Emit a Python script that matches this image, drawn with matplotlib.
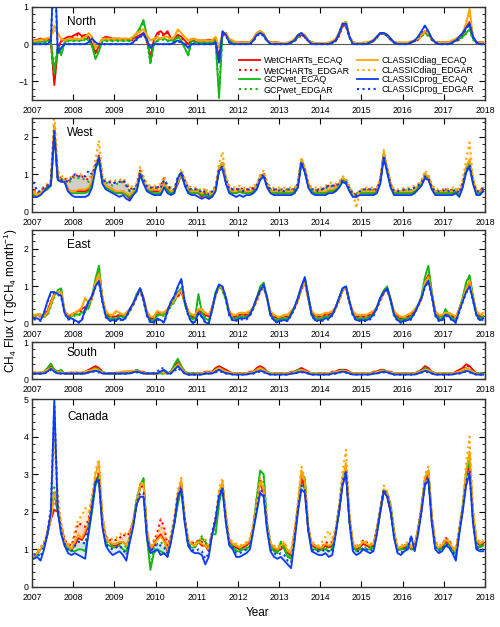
import numpy as np
import matplotlib
matplotlib.use('Agg')
import matplotlib.pyplot as plt
from matplotlib.ticker import MultipleLocator

plt.rcParams['font.family'] = ['Liberation Sans', 'DejaVu Sans']
plt.rcParams['mathtext.default'] = 'regular'

# monthly CH4 flux, Jan 2007 .. Dec 2017, in hundredths of TgCH4/month
# one row = one year

# ---- North ----
NORTH_WET_ECAQ = [
    10, 12, 15, 12, 15, 10, -110, -15, 10, 15, 20, 20,
    25, 30, 22, 25, 20, 0, -25, -5, 15, 20, 18, 15,
    15, 15, 12, 15, 10, 15, 20, 25, 30, 10, -35, 10,
    30, 35, 25, 35, 15, 15, 25, 20, 10, 0, 10, 10,
    10, 10, 10, 12, 10, 15, -40, 25, 30, 10, 5, 5,
    5, 5, 5, 5, 15, 30, 35, 25, 10, 5, 5, 5,
    3, 3, 3, 5, 10, 20, 25, 20, 10, 5, 3, 3,
    3, 3, 3, 5, 10, 25, 50, 50, 20, 5, 3, 3,
    3, 3, 5, 10, 20, 30, 30, 25, 15, 5, 3, 3,
    3, 3, 5, 10, 15, 25, 35, 30, 15, 5, 5, 5,
    5, 5, 10, 10, 15, 25, 45, 60, 20, 5, 5, 5,
]
NORTH_WET_EDGAR = [
    8, 10, 12, 10, 12, 8, -100, -10, 8, 12, 15, 15,
    20, 25, 20, 20, 15, 0, -20, -5, 12, 15, 15, 12,
    12, 12, 10, 12, 8, 12, 18, 22, 28, 5, -40, 8,
    25, 30, 22, 30, 12, 12, 22, 18, 8, 0, 8, 8,
    8, 8, 8, 10, 8, 12, -35, 22, 28, 8, 4, 4,
    4, 4, 4, 4, 12, 28, 32, 22, 8, 4, 4, 4,
    2, 2, 2, 4, 8, 18, 22, 18, 8, 4, 2, 2,
    2, 2, 2, 4, 8, 22, 48, 48, 18, 4, 2, 2,
    2, 2, 4, 8, 18, 28, 28, 22, 12, 4, 2, 2,
    2, 2, 4, 8, 12, 22, 32, 28, 12, 4, 4, 4,
    4, 4, 8, 8, 12, 22, 42, 55, 18, 4, 4, 4,
]
NORTH_GCP_ECAQ = [
    5, 5, 8, 5, 10, 5, -80, -10, -30, 5, 10, 10,
    10, 10, 10, 15, 10, -5, -40, -20, 10, 10, 10, 10,
    10, 10, 10, 10, 10, 20, 30, 45, 65, 20, -50, 0,
    10, 15, 15, 10, 10, 10, 20, 10, -10, -30, 10, 5,
    5, 5, 5, 5, 5, 10, -145, 30, 30, 10, 5, 5,
    3, 3, 3, 5, 10, 30, 35, 25, 10, 5, 3, 3,
    3, 3, 3, 5, 10, 20, 30, 25, 10, 5, 3, 3,
    3, 3, 3, 5, 10, 30, 55, 60, 20, 5, 3, 3,
    3, 3, 5, 10, 20, 30, 30, 25, 15, 5, 3, 3,
    3, 3, 5, 10, 15, 25, 30, 25, 15, 5, 3, 3,
    3, 3, 5, 10, 15, 20, 30, 40, 15, 5, 3, 3,
]
NORTH_GCP_EDGAR = [
    3, 3, 5, 3, 8, 3, -60, -8, -25, 3, 8, 8,
    8, 8, 8, 12, 8, -5, -35, -15, 8, 8, 8, 8,
    8, 8, 8, 8, 8, 18, 28, 40, 60, 15, -55, 0,
    8, 12, 12, 8, 8, 8, 18, 8, -10, -30, 8, 4,
    4, 4, 4, 4, 4, 8, -130, 28, 28, 8, 4, 4,
    2, 2, 2, 4, 8, 28, 32, 22, 8, 4, 2, 2,
    2, 2, 2, 4, 8, 18, 28, 22, 8, 4, 2, 2,
    2, 2, 2, 4, 8, 28, 52, 58, 18, 4, 2, 2,
    2, 2, 4, 8, 18, 28, 28, 22, 12, 4, 2, 2,
    2, 2, 4, 8, 12, 22, 28, 22, 12, 4, 2, 2,
    2, 2, 4, 8, 12, 18, 28, 38, 12, 4, 2, 2,
]
NORTH_DIAG_ECAQ = [
    10, 10, 12, 15, 15, 20, 50, 30, 15, 10, 15, 15,
    15, 15, 15, 20, 30, 20, -10, 0, 15, 15, 15, 15,
    15, 15, 15, 15, 15, 20, 30, 35, 40, 25, 10, 15,
    20, 15, 20, 20, 15, 20, 40, 30, 20, 10, 15, 15,
    10, 10, 10, 10, 10, 20, -10, 30, 30, 15, 10, 5,
    5, 5, 5, 5, 15, 30, 35, 30, 10, 5, 5, 5,
    3, 3, 5, 8, 15, 25, 30, 25, 10, 5, 3, 3,
    3, 3, 5, 8, 15, 30, 55, 60, 20, 5, 3, 3,
    5, 5, 8, 12, 20, 30, 30, 25, 15, 5, 5, 5,
    5, 5, 8, 10, 15, 25, 35, 30, 15, 5, 5, 5,
    5, 5, 10, 15, 20, 30, 55, 95, 20, 5, 5, 5,
]
NORTH_DIAG_EDGAR = [
    8, 8, 10, 12, 12, 18, 40, 25, 12, 8, 12, 12,
    12, 12, 12, 18, 25, 18, -8, 0, 12, 12, 12, 12,
    12, 12, 12, 12, 12, 18, 28, 32, 38, 22, 8, 12,
    18, 12, 18, 18, 12, 18, 38, 28, 18, 8, 12, 12,
    8, 8, 8, 8, 8, 18, -8, 28, 28, 12, 8, 4,
    4, 4, 4, 4, 12, 28, 32, 28, 8, 4, 4, 4,
    2, 2, 4, 6, 12, 22, 28, 22, 8, 4, 2, 2,
    2, 2, 4, 6, 12, 28, 52, 58, 18, 4, 2, 2,
    4, 4, 6, 10, 18, 28, 28, 22, 12, 4, 4, 4,
    4, 4, 6, 8, 12, 22, 32, 28, 12, 4, 4, 4,
    4, 4, 8, 12, 18, 28, 60, 90, 18, 4, 4, 4,
]
NORTH_PROG_ECAQ = [
    0, 0, 0, 0, 0, 10, 250, -25, -10, 0, 0, 0,
    0, 0, 0, 0, 5, 15, 5, 0, 0, 0, 0, 0,
    0, 0, 0, 0, 0, 5, 15, 20, 30, 10, -10, 0,
    0, 0, 0, 0, 0, 5, 10, 5, 0, -10, 0, 0,
    0, 0, 0, 0, 0, 5, -50, 35, 25, 5, 0, 0,
    0, 0, 0, 0, 10, 25, 30, 25, 10, 0, 0, 0,
    0, 0, 0, 5, 10, 25, 30, 20, 10, 0, 0, 0,
    0, 0, 0, 5, 10, 30, 55, 55, 20, 0, 0, 0,
    0, 0, 5, 10, 20, 30, 30, 25, 15, 5, 0, 0,
    0, 0, 5, 10, 20, 35, 50, 35, 15, 5, 0, 0,
    0, 0, 5, 10, 20, 30, 45, 55, 20, 5, 0, 0,
]
NORTH_PROG_EDGAR = [
    0, 0, 0, 0, 0, 8, 230, -20, -8, 0, 0, 0,
    0, 0, 0, 0, 4, 12, 4, 0, 0, 0, 0, 0,
    0, 0, 0, 0, 0, 4, 12, 18, 28, 8, -8, 0,
    0, 0, 0, 0, 0, 4, 8, 4, 0, -8, 0, 0,
    0, 0, 0, 0, 0, 4, -45, 32, 22, 4, 0, 0,
    0, 0, 0, 0, 8, 22, 28, 22, 8, 0, 0, 0,
    0, 0, 0, 4, 8, 22, 28, 18, 8, 0, 0, 0,
    0, 0, 0, 4, 8, 28, 52, 52, 18, 0, 0, 0,
    0, 0, 4, 8, 18, 28, 28, 22, 12, 4, 0, 0,
    0, 0, 4, 8, 18, 32, 48, 32, 12, 4, 0, 0,
    0, 0, 4, 8, 18, 28, 42, 52, 18, 4, 0, 0,
]

# ---- West ----
WEST_WET_ECAQ = [
    45, 45, 50, 60, 65, 75, 215, 90, 85, 85, 60, 55,
    55, 55, 55, 55, 60, 80, 120, 140, 80, 70, 65, 60,
    55, 50, 55, 45, 35, 50, 60, 100, 80, 60, 55, 55,
    55, 55, 75, 60, 50, 55, 75, 100, 80, 55, 50, 50,
    50, 40, 50, 35, 45, 60, 110, 125, 80, 55, 50, 50,
    55, 50, 50, 50, 55, 65, 90, 100, 70, 55, 55, 50,
    50, 50, 50, 50, 55, 70, 135, 110, 70, 55, 50, 50,
    50, 50, 55, 55, 60, 70, 85, 80, 60, 45, 40, 50,
    50, 50, 50, 50, 55, 80, 150, 110, 70, 50, 50, 50,
    50, 50, 50, 55, 65, 75, 95, 90, 65, 50, 50, 50,
    50, 50, 50, 55, 45, 70, 110, 125, 80, 50, 50, 60,
]
WEST_WET_EDGAR = [
    60, 50, 55, 65, 70, 80, 230, 95, 90, 90, 80, 90,
    100, 95, 95, 90, 85, 95, 125, 150, 90, 80, 80, 75,
    80, 80, 85, 75, 60, 65, 70, 110, 90, 70, 65, 65,
    65, 70, 90, 70, 60, 60, 80, 105, 85, 65, 60, 60,
    60, 50, 60, 45, 55, 65, 115, 130, 85, 65, 60, 60,
    65, 60, 60, 60, 65, 70, 95, 105, 75, 60, 60, 60,
    60, 60, 60, 60, 60, 75, 140, 115, 75, 60, 60, 60,
    60, 65, 70, 70, 70, 75, 90, 85, 65, 50, 45, 55,
    60, 60, 60, 60, 60, 85, 155, 115, 75, 55, 55, 55,
    60, 60, 60, 65, 70, 80, 100, 95, 70, 55, 55, 55,
    60, 55, 60, 60, 55, 75, 115, 135, 85, 55, 55, 65,
]
WEST_GCP_ECAQ = [
    45, 45, 50, 55, 60, 70, 210, 90, 85, 80, 55, 50,
    50, 50, 50, 50, 55, 75, 115, 135, 80, 65, 60, 55,
    50, 50, 50, 45, 40, 50, 60, 95, 80, 60, 55, 50,
    50, 50, 70, 55, 50, 55, 80, 95, 75, 55, 50, 50,
    50, 45, 45, 40, 45, 60, 115, 130, 80, 55, 50, 50,
    55, 50, 50, 50, 55, 65, 90, 95, 70, 55, 50, 50,
    50, 50, 50, 50, 55, 75, 140, 110, 70, 55, 50, 50,
    50, 50, 55, 55, 60, 70, 85, 80, 60, 45, 45, 50,
    50, 50, 50, 50, 55, 85, 155, 110, 70, 50, 50, 50,
    50, 50, 50, 55, 65, 75, 100, 90, 65, 50, 50, 50,
    50, 50, 50, 55, 45, 70, 115, 125, 80, 50, 50, 55,
]
WEST_GCP_EDGAR = [
    55, 50, 55, 60, 65, 75, 220, 92, 88, 85, 75, 85,
    95, 90, 90, 85, 80, 90, 120, 145, 88, 78, 75, 70,
    75, 75, 80, 70, 55, 60, 68, 105, 88, 68, 62, 62,
    62, 65, 85, 68, 58, 58, 82, 100, 80, 62, 58, 58,
    58, 50, 55, 45, 52, 65, 118, 132, 85, 62, 58, 58,
    62, 58, 58, 58, 62, 70, 95, 100, 75, 60, 58, 58,
    58, 58, 58, 58, 60, 78, 142, 112, 75, 60, 58, 58,
    58, 62, 68, 68, 68, 75, 90, 85, 65, 50, 48, 55,
    58, 58, 58, 58, 60, 88, 158, 112, 72, 55, 55, 55,
    58, 58, 58, 62, 68, 80, 102, 95, 70, 55, 55, 55,
    58, 55, 58, 60, 52, 75, 118, 130, 85, 55, 55, 60,
]
WEST_DIAG_ECAQ = [
    50, 45, 50, 60, 65, 80, 230, 95, 85, 85, 60, 55,
    55, 60, 60, 60, 65, 85, 125, 145, 85, 70, 65, 60,
    55, 55, 55, 50, 45, 55, 65, 105, 85, 65, 60, 60,
    60, 55, 75, 65, 55, 60, 80, 100, 80, 60, 55, 55,
    55, 50, 55, 45, 50, 65, 120, 130, 85, 60, 55, 55,
    60, 55, 55, 55, 60, 70, 95, 100, 70, 55, 55, 55,
    55, 55, 55, 55, 60, 75, 140, 115, 75, 60, 55, 55,
    55, 55, 60, 60, 65, 75, 90, 85, 60, 45, 40, 55,
    55, 55, 55, 55, 60, 85, 160, 115, 75, 55, 55, 55,
    55, 55, 55, 60, 70, 80, 100, 95, 70, 55, 55, 55,
    55, 55, 55, 60, 50, 75, 120, 140, 85, 55, 55, 65,
]
WEST_DIAG_EDGAR = [
    55, 50, 55, 70, 75, 85, 270, 110, 95, 95, 85, 95,
    100, 100, 100, 95, 90, 100, 140, 190, 100, 85, 85, 80,
    85, 85, 90, 80, 65, 70, 75, 120, 95, 75, 70, 70,
    70, 75, 95, 75, 65, 65, 90, 115, 90, 70, 65, 65,
    65, 55, 65, 50, 60, 70, 130, 160, 95, 70, 65, 65,
    70, 65, 65, 65, 70, 75, 100, 110, 80, 65, 65, 65,
    65, 65, 65, 65, 65, 80, 145, 120, 80, 65, 65, 65,
    65, 70, 75, 80, 75, 80, 95, 90, 70, 50, 10, 55,
    65, 65, 65, 65, 65, 90, 165, 120, 80, 60, 60, 60,
    65, 65, 65, 70, 75, 85, 110, 100, 75, 60, 60, 60,
    65, 60, 65, 65, 60, 85, 140, 185, 95, 60, 55, 70,
]
WEST_PROG_ECAQ = [
    40, 40, 45, 55, 65, 70, 210, 85, 80, 80, 55, 45,
    40, 40, 40, 40, 45, 65, 115, 145, 75, 60, 55, 50,
    45, 40, 45, 35, 30, 45, 55, 100, 75, 55, 50, 45,
    45, 45, 65, 50, 45, 50, 90, 105, 70, 50, 45, 45,
    40, 35, 40, 35, 40, 55, 110, 115, 75, 50, 45, 40,
    45, 40, 45, 45, 50, 60, 85, 95, 65, 50, 45, 45,
    45, 45, 45, 45, 50, 65, 130, 105, 65, 50, 45, 45,
    45, 45, 50, 50, 55, 65, 80, 75, 55, 40, 40, 45,
    45, 45, 45, 45, 50, 75, 145, 105, 65, 45, 45, 45,
    45, 45, 45, 50, 60, 70, 90, 85, 60, 45, 45, 45,
    45, 45, 45, 50, 40, 65, 105, 120, 75, 45, 45, 55,
]
WEST_PROG_EDGAR = [
    80, 55, 55, 65, 70, 80, 220, 90, 85, 85, 80, 90,
    100, 95, 95, 95, 110, 100, 125, 145, 85, 80, 80, 75,
    80, 80, 85, 70, 55, 60, 65, 105, 85, 65, 65, 65,
    65, 65, 85, 70, 60, 60, 95, 105, 80, 60, 60, 60,
    60, 50, 55, 45, 55, 65, 115, 120, 85, 60, 60, 60,
    60, 55, 60, 60, 60, 70, 90, 100, 70, 60, 60, 55,
    60, 55, 60, 60, 60, 75, 135, 110, 70, 60, 60, 55,
    60, 65, 70, 70, 70, 75, 85, 80, 60, 50, 45, 55,
    60, 60, 60, 60, 60, 85, 150, 110, 70, 55, 55, 55,
    60, 60, 60, 65, 70, 80, 95, 90, 65, 55, 55, 55,
    60, 55, 55, 60, 50, 75, 110, 125, 80, 55, 55, 65,
]

# ---- East ----
EAST_WET_ECAQ = [
    15, 25, 25, 20, 35, 60, 80, 85, 85, 30, 20, 25,
    30, 35, 40, 45, 50, 70, 110, 140, 70, 30, 20, 20,
    20, 25, 20, 30, 40, 55, 75, 95, 70, 30, 15, 15,
    30, 30, 30, 40, 55, 65, 75, 85, 60, 35, 20, 20,
    35, 30, 25, 20, 45, 80, 100, 95, 70, 30, 20, 20,
    25, 25, 25, 30, 45, 65, 90, 100, 70, 30, 20, 15,
    15, 20, 20, 30, 45, 65, 95, 110, 70, 30, 20, 20,
    20, 25, 25, 30, 45, 65, 90, 95, 60, 30, 20, 20,
    20, 20, 25, 30, 45, 65, 85, 95, 65, 30, 20, 15,
    15, 20, 25, 35, 50, 70, 110, 130, 80, 35, 20, 20,
    25, 30, 20, 15, 40, 65, 95, 110, 70, 30, 20, 20,
]
EAST_WET_EDGAR = [
    15, 20, 20, 20, 30, 55, 78, 85, 85, 28, 18, 22,
    25, 30, 35, 40, 45, 68, 105, 135, 68, 28, 18, 18,
    18, 22, 18, 28, 38, 52, 72, 92, 68, 28, 12, 12,
    25, 25, 25, 38, 52, 62, 72, 85, 58, 32, 18, 18,
    32, 28, 22, 18, 42, 78, 98, 95, 68, 28, 18, 18,
    22, 22, 22, 28, 42, 62, 88, 98, 68, 28, 18, 12,
    12, 18, 18, 28, 42, 62, 92, 108, 68, 28, 18, 18,
    18, 22, 22, 28, 42, 62, 88, 95, 58, 28, 18, 18,
    18, 18, 22, 28, 42, 62, 82, 92, 62, 28, 18, 12,
    12, 18, 22, 32, 48, 68, 108, 128, 78, 32, 18, 18,
    22, 28, 18, 12, 38, 62, 92, 108, 68, 28, 18, 18,
]
EAST_GCP_ECAQ = [
    20, 25, 25, 20, 25, 50, 75, 90, 95, 35, 15, 20,
    25, 25, 30, 35, 45, 75, 120, 155, 70, 25, 15, 15,
    15, 20, 20, 25, 35, 55, 80, 95, 65, 25, 10, 10,
    25, 25, 25, 35, 50, 60, 85, 95, 55, 30, 15, 15,
    80, 30, 15, 10, 40, 85, 105, 90, 65, 25, 15, 15,
    20, 20, 20, 25, 45, 70, 100, 110, 70, 25, 15, 10,
    15, 15, 15, 25, 45, 70, 100, 120, 70, 25, 15, 15,
    15, 20, 20, 25, 45, 70, 95, 100, 60, 25, 15, 15,
    15, 15, 20, 25, 45, 70, 90, 100, 65, 25, 15, 10,
    15, 15, 20, 30, 50, 75, 125, 155, 85, 30, 15, 15,
    40, 25, 15, 10, 40, 70, 110, 130, 75, 25, 15, 20,
]
EAST_GCP_EDGAR = [
    18, 22, 22, 18, 22, 48, 72, 88, 92, 32, 12, 18,
    22, 22, 28, 32, 42, 72, 115, 150, 68, 22, 12, 12,
    12, 18, 18, 22, 32, 52, 78, 92, 62, 22, 8, 8,
    22, 22, 22, 32, 48, 58, 82, 92, 52, 28, 12, 12,
    75, 28, 12, 8, 38, 82, 102, 88, 62, 22, 12, 12,
    18, 18, 18, 22, 42, 68, 98, 108, 68, 22, 12, 8,
    12, 12, 12, 22, 42, 68, 98, 118, 68, 22, 12, 12,
    12, 18, 18, 22, 42, 68, 92, 98, 58, 22, 12, 12,
    12, 12, 18, 22, 42, 68, 88, 98, 62, 22, 12, 8,
    12, 12, 18, 28, 48, 72, 122, 150, 82, 28, 12, 12,
    38, 22, 12, 8, 38, 68, 108, 128, 72, 22, 12, 18,
]
EAST_DIAG_ECAQ = [
    25, 25, 25, 20, 30, 55, 80, 85, 85, 35, 25, 25,
    30, 35, 45, 70, 55, 70, 110, 135, 70, 35, 25, 25,
    35, 30, 25, 30, 40, 55, 75, 90, 65, 35, 20, 20,
    35, 30, 30, 40, 55, 65, 80, 90, 60, 35, 25, 25,
    40, 40, 30, 25, 45, 75, 100, 95, 70, 35, 25, 25,
    30, 30, 30, 35, 45, 65, 90, 100, 70, 35, 25, 20,
    20, 25, 25, 35, 45, 65, 95, 110, 70, 35, 25, 25,
    25, 30, 30, 35, 45, 65, 90, 95, 60, 35, 25, 25,
    25, 25, 30, 35, 45, 65, 85, 95, 65, 35, 25, 20,
    20, 25, 30, 40, 50, 70, 110, 125, 80, 35, 25, 25,
    30, 30, 25, 20, 40, 65, 95, 115, 70, 35, 25, 30,
]
EAST_DIAG_EDGAR = [
    22, 22, 22, 18, 28, 52, 78, 85, 85, 32, 22, 22,
    28, 32, 42, 65, 52, 68, 108, 132, 68, 32, 22, 22,
    32, 28, 22, 28, 38, 52, 72, 88, 62, 32, 18, 18,
    32, 28, 28, 38, 52, 62, 78, 88, 58, 32, 22, 22,
    38, 38, 28, 22, 42, 72, 98, 92, 68, 32, 22, 22,
    28, 28, 28, 32, 42, 62, 88, 98, 68, 32, 22, 18,
    18, 22, 22, 32, 42, 62, 92, 108, 68, 32, 22, 22,
    22, 28, 28, 32, 42, 62, 88, 92, 58, 32, 22, 22,
    22, 22, 28, 32, 42, 62, 82, 92, 62, 32, 22, 18,
    18, 22, 28, 38, 48, 68, 108, 122, 78, 32, 22, 22,
    28, 28, 22, 18, 38, 62, 92, 112, 68, 32, 22, 28,
]
EAST_PROG_ECAQ = [
    15, 15, 10, 30, 60, 85, 85, 80, 75, 30, 15, 15,
    10, 5, 10, 40, 60, 75, 100, 115, 60, 20, 10, 10,
    10, 15, 10, 20, 40, 55, 75, 95, 65, 25, 5, 5,
    15, 10, 5, 35, 60, 75, 100, 120, 60, 25, 5, 5,
    30, 20, 5, 0, 40, 80, 105, 100, 70, 25, 10, 10,
    15, 15, 15, 25, 45, 70, 90, 105, 70, 25, 10, 5,
    10, 10, 10, 25, 45, 70, 100, 125, 75, 25, 10, 10,
    10, 15, 15, 25, 45, 70, 95, 100, 60, 25, 10, 10,
    10, 10, 15, 25, 45, 70, 85, 95, 65, 25, 10, 5,
    10, 10, 15, 30, 50, 70, 100, 115, 75, 25, 10, 10,
    25, 20, 10, 5, 35, 60, 85, 100, 65, 25, 10, 15,
]
EAST_PROG_EDGAR = [
    12, 12, 8, 28, 58, 82, 82, 78, 72, 28, 12, 12,
    8, 3, 8, 38, 58, 72, 98, 112, 58, 18, 8, 8,
    8, 12, 8, 18, 38, 52, 72, 92, 62, 22, 3, 3,
    12, 8, 3, 32, 58, 72, 98, 118, 58, 22, 3, 3,
    28, 18, 3, 0, 38, 78, 102, 98, 68, 22, 8, 8,
    12, 12, 12, 22, 42, 68, 88, 102, 68, 22, 8, 3,
    8, 8, 8, 22, 42, 68, 98, 122, 72, 22, 8, 8,
    8, 12, 12, 22, 42, 68, 92, 98, 58, 22, 8, 8,
    8, 8, 12, 22, 42, 68, 82, 92, 62, 22, 8, 3,
    8, 8, 12, 28, 48, 68, 98, 112, 72, 22, 8, 8,
    22, 18, 8, 3, 32, 58, 82, 98, 62, 22, 8, 12,
]

# ---- South ----
SOUTH_WET_ECAQ = [
    15, 15, 15, 20, 25, 35, 25, 20, 20, 15, 15, 15,
    15, 15, 15, 20, 25, 30, 35, 30, 20, 15, 15, 15,
    15, 15, 20, 20, 20, 20, 25, 20, 20, 15, 15, 15,
    15, 20, 20, 15, 20, 35, 50, 35, 20, 15, 15, 15,
    15, 15, 20, 20, 20, 30, 35, 30, 25, 20, 15, 15,
    15, 15, 15, 20, 20, 30, 35, 30, 20, 15, 15, 15,
    15, 15, 15, 20, 20, 25, 30, 25, 20, 15, 15, 15,
    15, 15, 15, 20, 20, 25, 25, 25, 20, 15, 15, 15,
    15, 15, 15, 20, 20, 25, 25, 20, 20, 15, 15, 15,
    15, 15, 15, 15, 20, 25, 35, 30, 20, 15, 15, 15,
    15, 15, 15, 20, 25, 30, 40, 35, 25, 15, 15, 15,
]
SOUTH_WET_EDGAR = [
    15, 15, 15, 18, 22, 32, 25, 20, 18, 15, 15, 15,
    15, 15, 15, 18, 22, 28, 32, 28, 20, 15, 15, 15,
    15, 15, 18, 18, 20, 20, 22, 20, 18, 15, 15, 15,
    15, 18, 18, 15, 20, 32, 45, 32, 20, 15, 15, 15,
    15, 15, 18, 18, 20, 28, 32, 28, 22, 18, 15, 15,
    15, 15, 15, 18, 20, 28, 32, 28, 20, 15, 15, 15,
    15, 15, 15, 18, 20, 22, 28, 22, 18, 15, 15, 15,
    15, 15, 15, 18, 20, 22, 25, 22, 18, 15, 15, 15,
    15, 15, 15, 18, 20, 22, 22, 20, 18, 15, 15, 15,
    15, 15, 15, 15, 18, 22, 32, 28, 20, 15, 15, 15,
    15, 15, 15, 18, 22, 28, 38, 32, 22, 15, 15, 15,
]
SOUTH_GCP_ECAQ = [
    15, 15, 15, 20, 30, 42, 25, 20, 25, 15, 15, 15,
    15, 15, 15, 15, 20, 25, 30, 25, 20, 15, 15, 15,
    15, 15, 15, 15, 20, 20, 25, 20, 15, 15, 15, 15,
    15, 15, 15, 15, 20, 40, 55, 35, 20, 15, 15, 15,
    15, 15, 15, 15, 20, 25, 30, 25, 20, 15, 15, 15,
    15, 15, 15, 15, 20, 25, 30, 25, 20, 15, 15, 15,
    15, 15, 15, 15, 20, 25, 25, 20, 15, 15, 15, 15,
    15, 15, 15, 15, 20, 20, 25, 20, 15, 15, 15, 15,
    15, 15, 15, 15, 20, 20, 25, 20, 15, 15, 15, 15,
    15, 15, 15, 15, 20, 20, 30, 25, 20, 15, 15, 15,
    15, 15, 15, 15, 20, 25, 30, 25, 20, 15, 15, 15,
]
SOUTH_GCP_EDGAR = [
    15, 15, 15, 18, 28, 38, 25, 20, 22, 15, 15, 15,
    15, 15, 15, 15, 18, 22, 28, 22, 18, 15, 15, 15,
    15, 15, 15, 15, 18, 18, 22, 18, 15, 15, 15, 15,
    15, 15, 15, 15, 18, 35, 50, 32, 18, 15, 15, 15,
    15, 15, 15, 15, 18, 22, 28, 22, 18, 15, 15, 15,
    15, 15, 15, 15, 18, 22, 28, 22, 18, 15, 15, 15,
    15, 15, 15, 15, 18, 22, 22, 18, 15, 15, 15, 15,
    15, 15, 15, 15, 18, 18, 22, 18, 15, 15, 15, 15,
    15, 15, 15, 15, 18, 18, 22, 18, 15, 15, 15, 15,
    15, 15, 15, 15, 18, 18, 28, 22, 18, 15, 15, 15,
    15, 15, 15, 15, 18, 22, 28, 22, 18, 15, 15, 15,
]
SOUTH_DIAG_ECAQ = [
    18, 18, 18, 20, 25, 30, 22, 18, 20, 15, 18, 18,
    18, 18, 18, 20, 22, 25, 28, 22, 18, 15, 15, 15,
    18, 18, 20, 20, 20, 22, 22, 20, 18, 15, 15, 15,
    15, 18, 18, 15, 18, 30, 40, 30, 18, 12, 12, 12,
    15, 15, 18, 18, 18, 25, 30, 25, 20, 18, 15, 15,
    15, 15, 15, 18, 18, 25, 30, 25, 18, 15, 15, 15,
    15, 15, 15, 18, 18, 22, 25, 22, 18, 15, 15, 15,
    15, 15, 15, 18, 18, 22, 22, 22, 18, 15, 15, 15,
    15, 15, 15, 18, 18, 22, 22, 20, 18, 15, 15, 15,
    15, 15, 15, 15, 18, 22, 25, 25, 18, 15, 15, 15,
    15, 15, 15, 18, 20, 25, 28, 25, 20, 15, 12, 12,
]
SOUTH_DIAG_EDGAR = [
    18, 18, 18, 20, 22, 28, 22, 18, 18, 15, 18, 18,
    18, 18, 18, 20, 22, 22, 25, 22, 18, 15, 15, 15,
    18, 18, 18, 20, 20, 22, 22, 20, 18, 15, 15, 15,
    15, 18, 18, 15, 18, 28, 35, 28, 18, 12, 12, 12,
    15, 15, 18, 18, 18, 22, 28, 22, 20, 18, 15, 15,
    15, 15, 15, 18, 18, 22, 28, 22, 18, 15, 15, 15,
    15, 15, 15, 18, 18, 20, 22, 20, 18, 15, 15, 15,
    15, 15, 15, 18, 18, 20, 22, 20, 18, 15, 15, 15,
    15, 15, 15, 18, 18, 20, 22, 20, 18, 15, 15, 15,
    15, 15, 15, 15, 18, 20, 22, 22, 18, 15, 15, 15,
    15, 15, 15, 18, 18, 22, 25, 22, 18, 15, 12, 12,
]
SOUTH_PROG_ECAQ = [
    15, 15, 15, 15, 20, 28, 20, 15, 15, 15, 15, 15,
    15, 15, 15, 15, 18, 20, 22, 20, 15, 15, 15, 15,
    15, 15, 15, 15, 15, 18, 20, 18, 15, 15, 15, 15,
    15, 20, 25, 15, 15, 25, 35, 25, 15, 12, 12, 12,
    12, 12, 15, 15, 15, 20, 25, 20, 15, 15, 12, 12,
    12, 12, 12, 15, 15, 20, 22, 20, 15, 12, 12, 12,
    12, 12, 12, 15, 15, 18, 20, 18, 15, 12, 12, 12,
    12, 12, 12, 15, 15, 18, 20, 18, 15, 12, 12, 12,
    12, 12, 12, 15, 15, 18, 20, 18, 15, 12, 12, 12,
    12, 12, 12, 12, 15, 18, 22, 20, 15, 12, 12, 12,
    12, 12, 12, 15, 15, 18, 22, 20, 15, 12, 12, 12,
]
SOUTH_PROG_EDGAR = [
    15, 15, 15, 15, 20, 25, 20, 15, 15, 15, 15, 15,
    15, 15, 15, 15, 18, 20, 20, 18, 15, 15, 15, 15,
    15, 15, 15, 15, 15, 18, 18, 18, 15, 15, 15, 15,
    20, 30, 28, 15, 15, 22, 30, 22, 15, 12, 12, 12,
    12, 12, 15, 15, 15, 18, 22, 18, 15, 15, 12, 12,
    12, 12, 12, 15, 15, 18, 20, 18, 15, 12, 12, 12,
    12, 12, 12, 15, 15, 18, 18, 18, 15, 12, 12, 12,
    12, 12, 12, 15, 15, 18, 18, 18, 15, 12, 12, 12,
    12, 12, 12, 15, 15, 18, 18, 18, 15, 12, 12, 12,
    12, 12, 12, 12, 15, 18, 20, 18, 15, 12, 12, 12,
    12, 12, 12, 15, 15, 18, 20, 18, 15, 12, 12, 12,
]

# ---- Canada ----
CANADA_WET_ECAQ = [
    80, 90, 100, 110, 140, 180, 205, 200, 160, 120, 110, 100,
    110, 130, 125, 140, 170, 230, 280, 300, 180, 130, 120, 110,
    110, 115, 120, 110, 130, 170, 220, 265, 270, 150, 95, 110,
    130, 140, 125, 95, 130, 170, 230, 270, 180, 120, 115, 110,
    120, 110, 110, 95, 140, 170, 230, 270, 180, 120, 110, 105,
    100, 105, 110, 120, 160, 220, 280, 250, 160, 110, 100, 95,
    100, 110, 90, 85, 140, 210, 290, 260, 150, 110, 105, 100,
    100, 110, 105, 110, 150, 200, 280, 310, 180, 110, 100, 105,
    115, 110, 105, 110, 150, 200, 255, 240, 200, 140, 100, 100,
    105, 110, 100, 105, 150, 210, 280, 300, 180, 110, 100, 105,
    120, 115, 100, 90, 150, 210, 290, 330, 190, 120, 110, 115,
]
CANADA_WET_EDGAR = [
    85, 95, 105, 115, 145, 185, 235, 210, 165, 125, 115, 110,
    140, 170, 165, 160, 180, 235, 285, 305, 185, 135, 125, 125,
    125, 130, 140, 135, 145, 175, 225, 268, 272, 150, 100, 120,
    145, 180, 160, 110, 135, 175, 235, 275, 185, 125, 120, 115,
    125, 120, 120, 105, 140, 175, 240, 275, 185, 125, 115, 110,
    105, 110, 115, 125, 160, 225, 285, 255, 165, 115, 105, 100,
    105, 115, 95, 90, 145, 215, 295, 265, 155, 115, 110, 105,
    105, 120, 115, 120, 155, 205, 285, 315, 185, 115, 105, 110,
    125, 120, 110, 115, 155, 205, 260, 245, 205, 145, 105, 105,
    110, 115, 105, 110, 155, 215, 285, 305, 185, 115, 105, 110,
    130, 125, 105, 95, 155, 215, 295, 340, 195, 125, 115, 120,
]
CANADA_GCP_ECAQ = [
    80, 85, 100, 110, 140, 190, 250, 200, 150, 110, 100, 95,
    95, 100, 100, 95, 140, 200, 270, 290, 170, 115, 110, 105,
    105, 110, 100, 95, 130, 170, 230, 270, 290, 130, 45, 90,
    100, 95, 90, 80, 125, 170, 220, 260, 180, 110, 105, 105,
    120, 130, 120, 100, 140, 140, 220, 270, 190, 115, 105, 95,
    95, 100, 100, 110, 160, 240, 310, 300, 170, 110, 95, 90,
    120, 100, 80, 75, 140, 210, 300, 290, 150, 100, 100, 95,
    100, 100, 95, 100, 150, 210, 280, 300, 180, 110, 95, 100,
    100, 100, 100, 105, 150, 200, 250, 250, 220, 150, 100, 100,
    100, 110, 100, 100, 150, 210, 290, 310, 180, 110, 100, 100,
    110, 110, 100, 85, 150, 210, 300, 340, 180, 110, 105, 110,
]
CANADA_GCP_EDGAR = [
    85, 90, 105, 115, 145, 195, 265, 205, 155, 115, 105, 100,
    110, 120, 120, 115, 150, 210, 275, 295, 175, 120, 115, 110,
    115, 120, 115, 105, 135, 175, 235, 272, 285, 135, 55, 100,
    115, 120, 110, 90, 130, 175, 225, 265, 180, 115, 110, 110,
    125, 135, 125, 105, 145, 150, 225, 275, 190, 120, 110, 100,
    100, 105, 105, 115, 165, 240, 305, 295, 170, 115, 100, 95,
    120, 105, 85, 80, 145, 215, 300, 290, 155, 105, 105, 100,
    105, 105, 100, 105, 155, 215, 285, 305, 185, 115, 100, 105,
    105, 105, 105, 110, 155, 205, 255, 250, 220, 150, 105, 105,
    105, 115, 105, 105, 155, 215, 290, 310, 185, 115, 105, 105,
    120, 115, 105, 90, 155, 215, 305, 350, 185, 115, 110, 115,
]
CANADA_DIAG_ECAQ = [
    80, 90, 100, 110, 140, 180, 250, 220, 160, 120, 110, 100,
    120, 140, 130, 150, 170, 230, 300, 330, 190, 130, 120, 115,
    115, 120, 120, 110, 130, 170, 220, 270, 275, 150, 100, 115,
    125, 135, 120, 100, 130, 180, 250, 285, 180, 120, 115, 110,
    120, 115, 110, 100, 140, 180, 250, 280, 190, 125, 115, 110,
    105, 110, 115, 125, 160, 220, 280, 260, 160, 115, 105, 100,
    110, 115, 95, 90, 150, 220, 310, 280, 160, 115, 110, 105,
    105, 115, 110, 115, 150, 210, 290, 330, 190, 115, 105, 110,
    120, 115, 110, 115, 150, 200, 260, 250, 210, 145, 105, 105,
    110, 115, 105, 110, 150, 210, 290, 310, 190, 115, 105, 110,
    125, 120, 105, 95, 150, 210, 310, 360, 200, 125, 115, 120,
]
CANADA_DIAG_EDGAR = [
    85, 95, 105, 120, 150, 190, 400, 250, 170, 125, 115, 110,
    150, 180, 190, 210, 200, 240, 310, 340, 200, 135, 125, 130,
    130, 140, 145, 140, 150, 180, 230, 275, 280, 150, 105, 125,
    140, 160, 150, 110, 140, 190, 260, 290, 185, 125, 120, 115,
    125, 130, 125, 105, 145, 190, 260, 290, 195, 130, 120, 115,
    110, 115, 120, 130, 165, 230, 290, 270, 165, 120, 110, 105,
    115, 120, 100, 95, 150, 230, 320, 290, 165, 120, 115, 110,
    120, 135, 150, 130, 155, 220, 310, 365, 200, 120, 110, 115,
    125, 120, 115, 120, 155, 210, 270, 255, 215, 150, 110, 110,
    115, 120, 110, 115, 155, 215, 300, 320, 195, 125, 110, 115,
    130, 125, 110, 100, 155, 220, 330, 400, 210, 130, 120, 125,
]
CANADA_PROG_ECAQ = [
    75, 80, 70, 100, 140, 200, 500, 200, 140, 110, 90, 85,
    90, 85, 80, 75, 150, 210, 280, 280, 160, 110, 95, 85,
    90, 95, 85, 70, 120, 160, 220, 240, 240, 130, 90, 95,
    100, 85, 90, 80, 120, 170, 240, 260, 170, 110, 95, 90,
    90, 85, 60, 80, 140, 180, 240, 260, 170, 110, 100, 80,
    80, 85, 90, 100, 150, 200, 250, 240, 150, 95, 80, 75,
    80, 70, 60, 50, 120, 200, 260, 250, 150, 95, 90, 85,
    85, 90, 80, 85, 140, 200, 270, 300, 170, 95, 85, 90,
    100, 95, 90, 95, 140, 200, 255, 240, 200, 130, 90, 85,
    95, 100, 135, 95, 140, 200, 270, 285, 170, 100, 90, 95,
    110, 105, 90, 70, 140, 200, 270, 300, 170, 100, 95, 95,
]
CANADA_PROG_EDGAR = [
    85, 90, 80, 110, 145, 210, 480, 210, 150, 115, 100, 95,
    110, 120, 120, 115, 160, 220, 280, 290, 165, 115, 105, 100,
    105, 110, 100, 85, 125, 165, 225, 250, 250, 135, 95, 105,
    115, 110, 105, 90, 125, 175, 245, 265, 175, 115, 100, 95,
    100, 95, 75, 90, 145, 185, 245, 265, 175, 115, 105, 90,
    90, 95, 100, 105, 155, 210, 260, 250, 160, 100, 90, 85,
    90, 85, 70, 65, 130, 210, 270, 260, 155, 100, 95, 95,
    95, 100, 95, 95, 145, 210, 280, 310, 175, 100, 95, 95,
    105, 100, 95, 100, 145, 205, 260, 245, 205, 135, 95, 90,
    100, 105, 135, 100, 145, 205, 275, 290, 175, 105, 95, 100,
    115, 110, 95, 80, 145, 205, 280, 310, 175, 105, 100, 100,
]

LABELS = ['WetCHARTs_ECAQ', 'WetCHARTs_EDGAR', 'GCPwet_ECAQ', 'GCPwet_EDGAR',
          'CLASSICdiag_ECAQ', 'CLASSICdiag_EDGAR', 'CLASSICprog_ECAQ', 'CLASSICprog_EDGAR']
LINE_COLORS = ['#FF0000', '#FF0000', '#10B810', '#10B810',
               '#FFA500', '#FFA500', '#0A3CF5', '#0A3CF5']
BAND_COLORS = ['#FF9AB0', '#8EE68E', '#FFC878', '#9FB6F7']

PANELS = [
    # name, [left, bottom, width, height], ylim, y major step, title top (axes frac)
    ('North', [0.064, 0.8405, 0.906, 0.1485], (-1.5, 1.0), 1, 0.9,
     [NORTH_WET_ECAQ, NORTH_WET_EDGAR, NORTH_GCP_ECAQ, NORTH_GCP_EDGAR,
      NORTH_DIAG_ECAQ, NORTH_DIAG_EDGAR, NORTH_PROG_ECAQ, NORTH_PROG_EDGAR]),
    ('West', [0.064, 0.6619, 0.906, 0.1499], (0, 2.5), 1, 0.9,
     [WEST_WET_ECAQ, WEST_WET_EDGAR, WEST_GCP_ECAQ, WEST_GCP_EDGAR,
      WEST_DIAG_ECAQ, WEST_DIAG_EDGAR, WEST_PROG_ECAQ, WEST_PROG_EDGAR]),
    ('East', [0.064, 0.4833, 0.906, 0.1499], (0, 2.5), 1, 0.9,
     [EAST_WET_ECAQ, EAST_WET_EDGAR, EAST_GCP_ECAQ, EAST_GCP_EDGAR,
      EAST_DIAG_ECAQ, EAST_DIAG_EDGAR, EAST_PROG_ECAQ, EAST_PROG_EDGAR]),
    ('South', [0.064, 0.3955, 0.906, 0.0590], (0, 1.0), 1, 0.87,
     [SOUTH_WET_ECAQ, SOUTH_WET_EDGAR, SOUTH_GCP_ECAQ, SOUTH_GCP_EDGAR,
      SOUTH_DIAG_ECAQ, SOUTH_DIAG_EDGAR, SOUTH_PROG_ECAQ, SOUTH_PROG_EDGAR]),
    ('Canada', [0.064, 0.0638, 0.906, 0.2998], (0, 5.0), 1, 0.935,
     [CANADA_WET_ECAQ, CANADA_WET_EDGAR, CANADA_GCP_ECAQ, CANADA_GCP_EDGAR,
      CANADA_DIAG_ECAQ, CANADA_DIAG_EDGAR, CANADA_PROG_ECAQ, CANADA_PROG_EDGAR]),
]

months = 2007 + (np.arange(132) + 0.5) / 12.0


def draw_panel(ax, title, ylim, ystep, title_y, series):
    vals = [np.asarray(s, dtype=float) / 100.0 for s in series]

    # spread between ECAQ and EDGAR runs of each model
    for k in range(4):
        lo = np.minimum(vals[2 * k], vals[2 * k + 1])
        hi = np.maximum(vals[2 * k], vals[2 * k + 1])
        ax.fill_between(months, lo, hi, color=BAND_COLORS[k], alpha=0.3, lw=0)

    for i, v in enumerate(vals):
        ls = '-' if i % 2 == 0 else ':'
        lw = 1.3 if i % 2 == 0 else 1.5
        ax.plot(months, v, color=LINE_COLORS[i], ls=ls, lw=lw, label=LABELS[i])

    if ylim[0] < 0:
        ax.axhline(0, color='0.35', lw=0.8, zorder=0)

    ax.set_xlim(2007, 2018)
    ax.set_ylim(*ylim)
    ax.set_xticks(range(2007, 2019))
    ax.yaxis.set_major_locator(MultipleLocator(ystep))
    ax.yaxis.set_minor_locator(MultipleLocator(0.2))
    ax.tick_params(which='both', direction='in', top=True, right=True, labelsize=6.3)
    ax.tick_params(which='major', length=4, width=0.8)
    ax.tick_params(which='minor', length=2, width=0.6)
    ax.tick_params(axis='x', which='minor', top=False, bottom=False)
    ax.tick_params(axis='x', pad=4.5)
    ax.tick_params(axis='y', pad=2.5)
    for sp in ax.spines.values():
        sp.set_linewidth(1.0)
        sp.set_color('0.2')
    ax.text(0.077, title_y, title, transform=ax.transAxes,
            fontsize=8.5, va='top', ha='left')


fig = plt.figure(figsize=(5.0, 6.27), dpi=100)
for name, rect, ylim, ystep, title_y, series in PANELS:
    ax = fig.add_axes(rect)
    draw_panel(ax, name, ylim, ystep, title_y, series)
    if name == 'North':
        ax.legend(loc='lower right', ncol=2, frameon=False, fontsize=6.4,
                  handlelength=2.4, handletextpad=0.4, columnspacing=0.8,
                  labelspacing=0.05, borderaxespad=0.3, bbox_to_anchor=(0.99, 0.0))

fig.text(0.022, 0.52, r'CH$_4$ Flux ( TgCH$_4$ month$^{-1}$)', rotation=90,
         ha='center', va='center', fontsize=8.5)
fig.text(0.516, 0.022, 'Year', ha='center', va='center', fontsize=8.5)

fig.savefig('out.png', dpi=100)
